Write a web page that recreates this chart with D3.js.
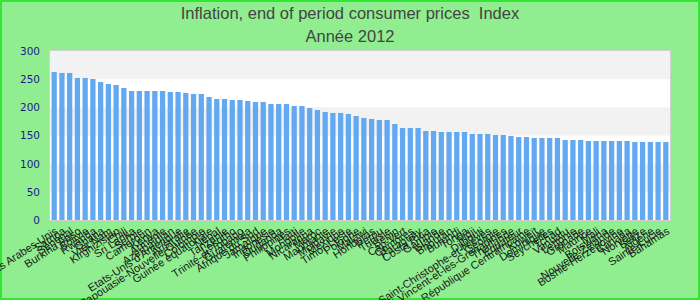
<!DOCTYPE html>
<html>
<head>
<meta charset="utf-8">
<script src="https://cdn.jsdelivr.net/npm/d3@7/dist/d3.min.js"></script>
<style>
  html, body { margin: 0; padding: 0; background: #90ee90; }
  svg { display: block; }
  .title { white-space: pre; }
</style>
</head>
<body>
<svg id="chart" width="700" height="300"></svg>
<script>
const titleText = "Inflation, end of period consumer prices  Index";
const subtitleText = "Année 2012";

const countries = [
  "Emirats Arabes Unis", "Samoa", "Sénégal", "Burkina Faso", "Bolivie",
  "Rwanda", "Ghana", "Viet Nam", "Kirghizistan", "Chili",
  "Sri Lanka", "Serbie", "Cameroun", "Kenya", "Arménie",
  "Azerbaïdjan", "Etats-Unis d'Amérique", "Australie", "Papouasie-Nouvelle-Guinée", "Colombie",
  "Guinée équatoriale", "Népal", "Tanzanie", "Lesotho", "Trinité-et-Tobago",
  "Guatemala", "Afrique du Sud", "Jamaïque", "Indonésie", "Ouganda",
  "Philippines", "Haïti", "Mongolie", "Nicaragua", "Maroc",
  "Mauritanie", "Moldavie", "Mexique", "Timor-Leste", "Pologne",
  "Malawi", "Honduras", "Pérou", "Tunisie", "Bénin",
  "Cap-Vert", "Comores", "Paraguay", "Costa Rica", "Gambie",
  "Islande", "Bhoutan", "Burundi", "Tonga", "Fidji",
  "Djibouti", "Saint-Christophe-et-Niévès", "Géorgie", "Saint-Vincent-et-les-Grenadines", "Thaïlande",
  "Equateur", "République Centrafricaine", "Koweït", "Dominique", "Seychelles",
  "Tchad", "Vanuatu", "Lettonie", "Grenade", "Maurice",
  "Mali", "Botswana", "Nouvelle-Zélande", "Bosnie-Herzégovine", "Canada",
  "Norvège", "Belize", "Algérie", "Sainte-Lucie", "Bahamas"
];

const values = [
  262.7, 261.0, 261.0, 252.1, 252.1, 250.3, 245.0, 241.4, 239.6, 234.3,
  229.0, 229.0, 229.0, 229.0, 229.0, 227.2, 227.2, 225.5, 223.7, 223.7,
  218.4, 214.8, 214.8, 213.0, 213.0, 211.3, 209.5, 209.5, 206.0, 206.0,
  206.0, 202.4, 202.4, 198.8, 195.3, 191.7, 190.0, 190.0, 188.2, 184.6,
  181.1, 179.3, 177.5, 177.5, 170.4, 163.3, 163.3, 163.3, 158.0, 158.0,
  156.2, 156.2, 156.2, 156.2, 152.7, 152.7, 152.7, 150.9, 150.9, 149.1,
  147.3, 147.3, 145.6, 145.6, 145.6, 145.6, 142.0, 142.0, 142.0, 140.2,
  140.2, 140.2, 140.2, 140.2, 140.2, 138.5, 138.5, 138.5, 138.5, 138.5
];

const yTicks = [0, 50, 100, 150, 200, 250, 300];

const W = 700, H = 300;
const plot = { left: 50, right: 670, top: 51, bottom: 220 };

const svg = d3.select("#chart");

// outer background + border
svg.append("rect")
  .attr("x", 1).attr("y", 1).attr("width", W - 2).attr("height", H - 2)
  .attr("fill", "#90ee90").attr("stroke", "#33e633").attr("stroke-width", 2);

// titles
svg.append("text")
  .attr("class", "title")
  .attr("x", 350).attr("y", 19)
  .attr("text-anchor", "middle")
  .attr("font-family", "'Liberation Sans Narrow', 'Liberation Sans', Arial, sans-serif")
  .attr("font-size", 16.5).attr("fill", "#444")
  .text(titleText);
svg.append("text")
  .attr("class", "title")
  .attr("x", 350).attr("y", 42)
  .attr("text-anchor", "middle")
  .attr("font-family", "'Liberation Sans Narrow', 'Liberation Sans', Arial, sans-serif")
  .attr("font-size", 16.5).attr("fill", "#444")
  .text(subtitleText);

const x = d3.scaleBand()
  .domain(countries)
  .range([plot.left, plot.right])
  .paddingInner(0.32)
  .paddingOuter(0.2);

const y = d3.scaleLinear()
  .domain([0, 300])
  .range([plot.bottom, plot.top]);

// plot background with alternating bands
svg.append("rect")
  .attr("x", plot.left).attr("y", plot.top)
  .attr("width", plot.right - plot.left).attr("height", plot.bottom - plot.top)
  .attr("fill", "#ffffff");

const bands = d3.pairs(yTicks).filter((d, i) => i % 2 === 1);
svg.append("g").selectAll("rect")
  .data(bands)
  .join("rect")
  .attr("x", plot.left)
  .attr("width", plot.right - plot.left)
  .attr("y", d => y(d[1]))
  .attr("height", d => y(d[0]) - y(d[1]))
  .attr("fill", "#f2f2f2");

svg.append("rect")
  .attr("x", plot.left - 0.5).attr("y", plot.top - 0.5)
  .attr("width", plot.right - plot.left + 1).attr("height", plot.bottom - plot.top + 1)
  .attr("fill", "none").attr("stroke", "#d0d0d0").attr("stroke-width", 1);

// bars
svg.append("g").selectAll("rect")
  .data(countries.map((c, i) => ({ c, v: values[i] })))
  .join("rect")
  .attr("x", d => x(d.c))
  .attr("width", x.bandwidth())
  .attr("y", d => y(d.v))
  .attr("height", d => y(0) - y(d.v))
  .attr("fill", "#63a9f1");

// y axis
const yAxis = d3.axisLeft(y).tickValues(yTicks).tickSize(0).tickPadding(10);
const gy = svg.append("g")
  .attr("transform", `translate(${plot.left},0)`)
  .call(yAxis);
gy.select(".domain").remove();
gy.selectAll("text")
  .attr("font-family", "'DejaVu Sans', Verdana, sans-serif")
  .attr("font-size", 10.5)
  .attr("fill", "#1a1a8c");

// x axis labels
const xAxis = d3.axisBottom(x).tickSize(0).tickPadding(0);
const gx = svg.append("g")
  .attr("transform", `translate(0,${plot.bottom})`)
  .call(xAxis);
gx.select(".domain").remove();
gx.selectAll("text")
  .attr("font-family", "'Liberation Sans', Arial, sans-serif")
  .attr("font-size", 11)
  .attr("fill", "#1a1a1a")
  .attr("text-anchor", "end")
  .attr("y", 0).attr("dy", "0.75em")
  .attr("transform", "translate(0,6) rotate(-33)");
</script>
</body>
</html>
